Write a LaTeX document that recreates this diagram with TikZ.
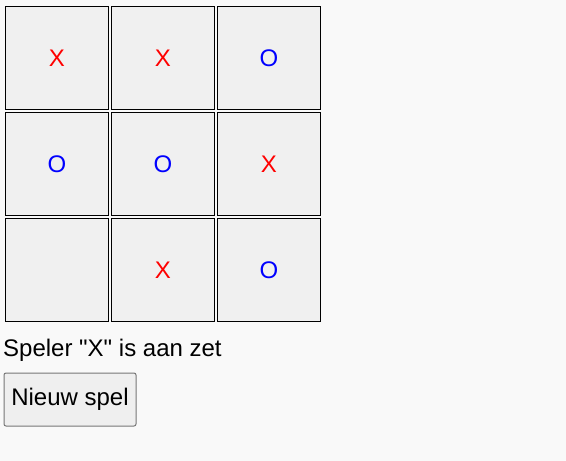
\documentclass[tikz,border=0pt]{standalone}
\usepackage{fontspec}
\setmainfont{Liberation Sans}[Ligatures=TeXOff]
\usetikzlibrary{positioning}
\definecolor{pagebg}{RGB}{249,249,249}
\definecolor{cellfill}{RGB}{240,240,240}
\definecolor{buttonfill}{RGB}{239,239,239}
\definecolor{buttonedge}{RGB}{118,118,118}
\definecolor{playerx}{RGB}{255,0,0}
\definecolor{playero}{RGB}{0,0,255}

\begin{document}
\begin{tikzpicture}[
  x=1pt, y=-1pt,
  cell/.style={
    draw=black,
    fill=cellfill,
    line width=1pt,
    minimum width=103pt,
    minimum height=103pt,
    inner sep=0pt,
    font=\fontsize{24}{28}\selectfont
  },
  playX/.style={text=playerx},
  playO/.style={text=playero},
  play/.style={},
  status/.style={anchor=base west, inner sep=0pt, font=\fontsize{24}{28}\selectfont},
  button/.style={
    draw=buttonedge,
    fill=buttonfill,
    line width=1pt,
    rounded corners=2pt,
    minimum width=132pt,
    minimum height=53pt,
    inner sep=0pt,
    font=\fontsize{24}{28}\selectfont
  }
]

% Page background
\fill[pagebg] (0,0) rectangle (566,461);
\useasboundingbox (0,0) rectangle (566,461);

% Board
\foreach \row/\cols in {1/{X,X,O}, 2/{O,O,X}, 3/{,X,O}} {
  \foreach \sym [count=\col] in \cols {
    \node[cell, play\sym] (c\row\col) at ({57+106*(\col-1)}, {58+106*(\row-1)}) {\sym};
  }
}

% Status line and button
\node[status] (turn) at (3,356) {Speler "X" is aan zet};
\node[button, anchor=north west] (newgame) at (3.5,372.5) {Nieuw spel};

\end{tikzpicture}
\end{document}
